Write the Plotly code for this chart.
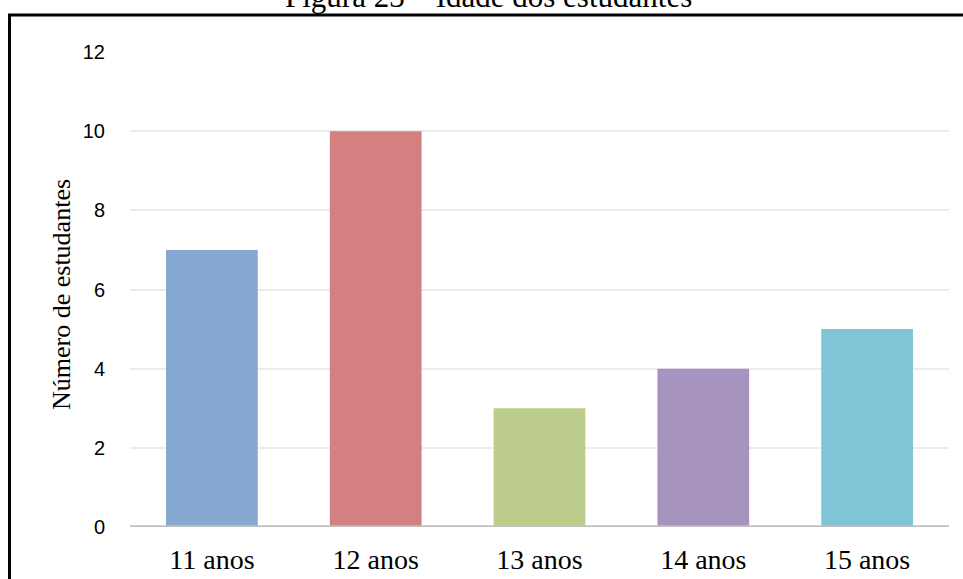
import plotly.graph_objects as go

# Idade dos estudantes (number of students per age)
categorias = ["11 anos", "12 anos", "13 anos", "14 anos", "15 anos"]
estudantes = [7, 10, 3, 4, 5]
cores = ["#86a7d0", "#d58080", "#bccd8b", "#a693bf", "#81c4d6"]
y_ticks = [0, 2, 4, 6, 8, 10, 12]

W, H = 963, 579
L, R, T, B = 130, 14, 52, 52
pw, ph = W - L - R, H - T - B


def px_x(x):
    return (x - L) / pw


def px_y(y):
    return 1 - (y - T) / ph


fig = go.Figure(
    go.Bar(
        x=categorias,
        y=estudantes,
        marker=dict(color=cores, line=dict(width=0)),
        width=0.56,
        hoverinfo="x+y",
    )
)

fig.update_layout(
    width=W,
    height=H,
    margin=dict(l=L, r=R, t=T, b=B, autoexpand=False),
    paper_bgcolor="white",
    plot_bgcolor="white",
    showlegend=False,
    xaxis=dict(
        range=[-0.5, 4.5],
        showgrid=False,
        showline=False,
        zeroline=False,
        ticks="",
        ticklabelstandoff=13,
        tickfont=dict(family="Liberation Serif", size=28, color="#000000"),
    ),
    yaxis=dict(
        range=[0, 12],
        tickvals=y_ticks,
        showgrid=True,
        gridcolor="#ececec",
        gridwidth=1.5,
        zeroline=False,
        showline=False,
        ticks="",
        ticklabelstandoff=24,
        tickfont=dict(family="Liberation Sans", size=20, color="#000000"),
    ),
    shapes=[
        # baseline of the value axis
        dict(type="line", xref="paper", yref="y", x0=0, x1=1, y0=0, y1=0,
             line=dict(color="#c0c0c0", width=3.5), layer="above"),
        # frame around the figure
        dict(type="rect", xref="paper", yref="paper",
             x0=px_x(9.5), x1=1.2, y0=-0.3, y1=px_y(15),
             line=dict(color="black", width=3), fillcolor="rgba(0,0,0,0)"),
    ],
    annotations=[
        dict(text="Número de estudantes", xref="paper", yref="paper",
             x=px_x(61), y=px_y(295), xanchor="center", yanchor="middle",
             textangle=-90, showarrow=False,
             font=dict(family="Liberation Serif", size=26, color="#000000")),
        dict(text="Figura 23 – Idade dos estudantes", xref="paper", yref="paper",
             x=px_x(488), y=px_y(16), xanchor="center", yanchor="bottom",
             showarrow=False,
             font=dict(family="Liberation Serif", size=31, color="#000000")),
    ],
)

fig.write_html("out.html")
